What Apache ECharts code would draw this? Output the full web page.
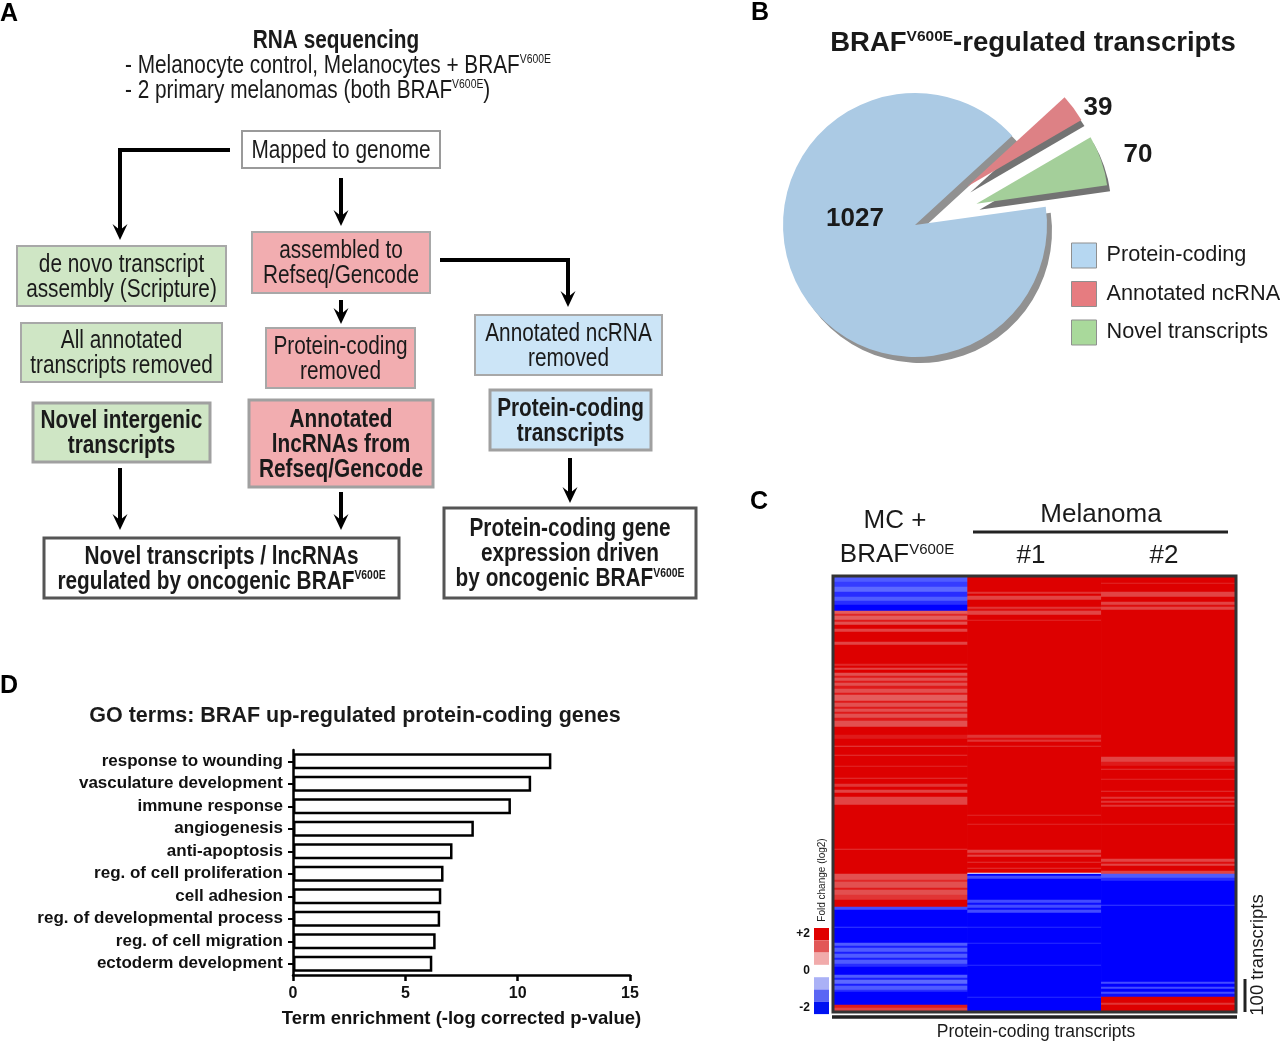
<!DOCTYPE html>
<html>
<head>
<meta charset="utf-8">
<script src="https://cdn.jsdelivr.net/npm/echarts@6/dist/echarts.min.js"></script>
<style>
html,body{margin:0;padding:0;background:#fff;}
#chart{width:1280px;height:1042px;}
</style>
</head>
<body>
<div id="chart"></div>
<script>
// ---------------- DATA ----------------
// Panel B: pie
const pieNames = ['Protein-coding', 'Annotated ncRNA', 'Novel transcripts'];
const pieValues = [1027, 39, 70];

// Panel D: GO terms
const goTerms = ['response to wounding', 'vasculature development', 'immune response', 'angiogenesis',
  'anti-apoptosis', 'reg. of cell proliferation', 'cell adhesion', 'reg. of developmental process',
  'reg. of cell migration', 'ectoderm development'];
const goValues = [11.5, 10.6, 9.7, 8.05, 7.1, 6.7, 6.6, 6.55, 6.35, 6.2];
const goTicks = [0, 5, 10, 15];

// Panel C: heatmap columns and fold-change runs (log2), read top to bottom as [rows, value]
const heatColumns = ['MC + BRAF V600E', 'Melanoma #1', 'Melanoma #2'];
const runsMC = [
  [5,-1.4],[5,-1.6],[5,-1.3],[5,-1.7],[4,-1.4],[4,-1.7],[6,-2],
  [3,1.3],[2,1.7],[4,1.3],[2,1.8],[3,1.4],[4,2],[3,1.5],[10,2],[3,1.5],[19,2],
  [2,1.7],[2,2],[2,1.5],[3,2],[3,1.4],[2,1.8],[3,1.4],[2,1.8],[3,1.4],
  [3,1.8],[4,1.4],[2,1.8],[6,1.3],[2,1.8],[4,1.4],[2,1.8],[3,1.4],[2,1.8],[4,1.4],[3,1.8],[6,1.4],
  [8,2],[4,1.8],[7,2],[1,1.5],[8,2],[1,1.6],[10,2],[1,1.7],[11,2],[1,1.6],[5,2],[3,1.6],[3,2],[3,1.5],[4,2],[8,1.5],
  [44,2],[1,1.6],[24,2],
  [6,1.4],[2,1.7],[6,1.4],[2,1.8],[5,1.4],[5,1.6],[7,2],
  [3,-1.5],[17,-2],[1,-1.6],[15,-2],
  [3,-1.4],[2,-1.8],[4,-1.4],[2,-1.8],[4,-1.4],[2,-1.8],[4,-1.4],[3,-1.7],
  [8,-2],[3,-1.4],[2,-1.8],[4,-1.3],[2,-1.8],[4,-1.4],[2,-1.7],[13,-2],
  [3,1.8],[3,1.5]
];
const runsM1 = [
  [15,2],[2,1.6],[2,2],[4,1.5],[7,2],[2,1.6],[2,1.9],[4,1.5],[5,2],[1,1.7],
  [114,2],[3,1.6],[2,1.9],[2,1.6],[4,2],[1,1.6],[68,2],[1,1.7],[8,2],[1,1.7],[25,2],
  [3,1.5],[2,1.9],[2,1.5],[5,2],[1,1.6],[5,2],[1,1.6],[4,2],[1,0],
  [2,-2],[3,-1.5],[21,-2],[3,-1.5],[2,-1.9],[3,-1.5],[2,-1.9],[3,-1.5],
  [14,-2],[1,-1.7],[15,-2],[1,-1.7],[21,-2],[1,-1.7],[31,-2],[1,-1.7],[13,-2]
];
const runsM2 = [
  [6,2],[1,1.7],[8,2],[5,1.5],[5,2],[3,1.5],[2,1.9],[3,1.5],
  [147,2],[5,1.5],[4,1.8],[3,2],[1,1.6],[9,2],[1,1.7],[11,2],[1,1.6],[5,2],
  [2,1.6],[2,2],[2,1.6],[2,2],[2,1.6],[17,2],[1,1.7],[34,2],
  [3,1.5],[2,1.9],[2,1.5],[5,2],[3,1.5],
  [4,-1.4],[3,-1.7],[24,-2],[1,-1.6],[76,-2],
  [2,-1.5],[3,-2],[2,-1.5],[3,-2],[2,-1.5],[3,-1.9],
  [6,2],[2,1.6],[6,2]
];
const foldTicks = ['+2', '0', '-2'];

// ---------------- BUILD ----------------
function expandRuns(runs) {
  const out = [];
  runs.forEach(function (r) { for (let i = 0; i < r[0]; i++) out.push(r[1]); });
  return out;
}
const colVals = [expandRuns(runsMC), expandRuns(runsM1), expandRuns(runsM2)];
const nRows = colVals[0].length;
const rowCats = [];
for (let i = 0; i < nRows; i++) rowCats.push(String(i));
const heatData = [];
colVals.forEach(function (vals, c) { vals.forEach(function (v, r) { heatData.push([c, r, v]); }); });

const FF = '"Liberation Sans", Arial, Helvetica, sans-serif';
const TXT = '#1a1a1a';
const SUP = { fontSize: 13, fontFamily: FF, verticalAlign: 'top', fill: TXT };
const SUPB = { fontSize: 13, fontFamily: FF, fontWeight: 'bold', verticalAlign: 'top', fill: TXT };

const G_FILL = '#cfe6c5', P_FILL = '#f2adb0', B_FILL = '#cce5f7';
const boxes = [
  [242,131,198,37,'#ffffff','#9a9a9a',2,'Mapped to genome',false],
  [17,246,209,60,G_FILL,'#a8a8a8',2,'de novo transcript\nassembly (Scripture)',false],
  [252,232,178,61,P_FILL,'#a8a8a8',2,'assembled to\nRefseq/Gencode',false],
  [21,323,201,59,G_FILL,'#a8a8a8',2,'All annotated\ntranscripts removed',false],
  [266,328,149,60,P_FILL,'#a8a8a8',2,'Protein-coding\nremoved',false],
  [475,315,187,60,B_FILL,'#a8a8a8',2,'Annotated ncRNA\nremoved',false],
  [33,403,177,59,G_FILL,'#a0a0a0',3,'Novel intergenic\ntranscripts',true],
  [249,400,184,87,P_FILL,'#a0a0a0',3,'Annotated\nlncRNAs from\nRefseq/Gencode',true],
  [490,390,161,60,B_FILL,'#a0a0a0',3,'Protein-coding\ntranscripts',true],
  [44,538,355,60,'#ffffff','#555555',3,'Novel transcripts / lncRNAs\nregulated by oncogenic BRAF{sup|V600E}',true],
  [444,508,252,90,'#ffffff','#555555',3,'Protein-coding gene\nexpression driven\nby oncogenic BRAF{sup|V600E}',true]
];

const gEls = [];
function txt(x, y, text, opt) {
  opt = opt || {};
  gEls.push({
    type: 'text', x: x, y: y, z: 50, scaleX: opt.scaleX || 1, rotation: opt.rotation || 0,
    style: {
      text: text, fontSize: opt.size || 20, fontFamily: FF, fontWeight: opt.bold ? 'bold' : 'normal',
      fill: opt.color || TXT, align: opt.align || 'center', verticalAlign: 'middle',
      textAlign: opt.align || 'center', textVerticalAlign: 'middle',
      lineHeight: opt.lh || undefined,
      rich: opt.rich || (opt.bold ? { sup: SUPB } : { sup: SUP })
    }
  });
}
boxes.forEach(function (b) {
  gEls.push({ type: 'rect', z: 40, shape: { x: b[0], y: b[1], width: b[2], height: b[3] },
    style: { fill: b[4], stroke: b[5], lineWidth: b[6] } });
  txt(b[0] + b[2] / 2, b[1] + b[3] / 2 + 1, b[7], { size: 26, bold: b[8], scaleX: 0.8, lh: 25 });
});
// header of panel A
txt(336, 41, 'RNA sequencing', { size: 26, bold: true, scaleX: 0.8 });
txt(125, 66, '- Melanocyte control, Melanocytes + BRAF{sup|V600E}', { size: 26, scaleX: 0.8, align: 'left' });
txt(125, 91, '- 2 primary melanomas (both BRAF{sup|V600E})', { size: 26, scaleX: 0.8, align: 'left' });

// arrows
const arrows = [
  [[230,150],[120,150],[120,240]],
  [[341,178],[341,226]],
  [[440,260],[568,260],[568,307]],
  [[341,300],[341,324]],
  [[120,468],[120,530]],
  [[341,492],[341,530]],
  [[570,458],[570,503]]
];
arrows.forEach(function (pts) {
  const tip = pts[pts.length - 1];
  const line = pts.slice(0, pts.length - 1).concat([[tip[0], tip[1] - 9]]);
  gEls.push({ type: 'polyline', z: 45, shape: { points: line }, style: { stroke: '#000', lineWidth: 4, fill: null } });
  gEls.push({ type: 'polygon', z: 46, shape: { points: [[tip[0] - 7.5, tip[1] - 16], [tip[0], tip[1] - 10], [tip[0] + 7.5, tip[1] - 16], [tip[0], tip[1]]] },
    style: { fill: '#000' } });
});

// panel letters
txt(0, 14, 'A', { size: 25, bold: true, align: 'left', color: '#000' });
txt(751, 13, 'B', { size: 25, bold: true, align: 'left', color: '#000' });
txt(750, 502, 'C', { size: 25, bold: true, align: 'left', color: '#000' });
txt(0, 686, 'D', { size: 25, bold: true, align: 'left', color: '#000' });

// panel B title + pie value labels
txt(1033, 43, 'BRAF{supb|V600E}-regulated transcripts', { size: 27.5, bold: true,
  rich: { supb: { fontSize: 15.5, fontFamily: FF, fontWeight: 'bold', verticalAlign: 'top', fill: TXT } } });
txt(855, 219, String(pieValues[0]), { size: 26, bold: true });
txt(1098, 108, String(pieValues[1]), { size: 26, bold: true });
txt(1138, 155, String(pieValues[2]), { size: 26, bold: true });

// panel C annotations
txt(895, 521, 'MC +', { size: 26 });
txt(897, 555, 'BRAF{sup|V600E}', { size: 26, rich: { sup: { fontSize: 15, fontFamily: FF, verticalAlign: 'top', fill: TXT } } });
txt(1101, 515, 'Melanoma', { size: 26 });
gEls.push({ type: 'line', z: 45, shape: { x1: 973, y1: 532, x2: 1228, y2: 532 }, style: { stroke: '#222', lineWidth: 3 } });
txt(1031, 556, '#1', { size: 26 });
txt(1164, 556, '#2', { size: 26 });
gEls.push({ type: 'rect', z: 60, shape: { x: 833, y: 576, width: 403, height: 436 }, style: { fill: null, stroke: '#333', lineWidth: 3 } });
gEls.push({ type: 'line', z: 45, shape: { x1: 832, y1: 1017, x2: 1237, y2: 1017 }, style: { stroke: '#222', lineWidth: 3.5 } });
txt(1036, 1032, 'Protein-coding transcripts', { size: 17.5 });
gEls.push({ type: 'line', z: 45, shape: { x1: 1245, y1: 979, x2: 1245, y2: 1012 }, style: { stroke: '#222', lineWidth: 3 } });
txt(1258, 955, '100 transcripts', { size: 18.5, rotation: Math.PI / 2 });
txt(822, 880, 'Fold change (log2)', { size: 10, rotation: Math.PI / 2, color: '#222' });

// panel D title
txt(355, 716, 'GO terms: BRAF up-regulated protein-coding genes', { size: 21.5, bold: true });

// ---------------- CHART ----------------
const chart = echarts.init(document.getElementById('chart'), null, { renderer: 'canvas' });
const blue = '#abcae4', red = '#dd8185', green = '#a4cf9a';
chart.setOption({
  animation: false,
  backgroundColor: '#ffffff',
  graphic: { elements: gEls },
  legend: {
    data: [
      { name: pieNames[0], itemStyle: { color: '#b6d7f1' } },
      { name: pieNames[1], itemStyle: { color: '#e67c80' } },
      { name: pieNames[2], itemStyle: { color: '#a9d99b' } }
    ],
    orient: 'vertical', left: 1071, top: 242.5, padding: 0,
    itemWidth: 25, itemHeight: 25, itemGap: 12.5,
    selectedMode: false, icon: 'rect',
    itemStyle: { borderColor: '#8f8f8f', borderWidth: 1, shadowBlur: 0, shadowOffsetX: 0, shadowOffsetY: 0, shadowColor: 'rgba(0,0,0,0)' },
    textStyle: { fontSize: 21.7, fontFamily: FF, color: '#1a1a1a', padding: [0, 0, 0, 5] }
  },
  grid: [
    { left: 293, top: 750, width: 337, height: 225 },
    { left: 834, top: 577, width: 401, height: 434 }
  ],
  xAxis: [
    { type: 'value', gridIndex: 0, min: goTicks[0], max: goTicks[goTicks.length - 1], interval: 5,
      axisLine: { show: true, lineStyle: { color: '#000', width: 2.5 } },
      axisTick: { show: true, length: 6, lineStyle: { color: '#000', width: 2.5 } },
      axisLabel: { fontSize: 16, fontWeight: 'bold', fontFamily: FF, color: '#111', margin: 11 },
      splitLine: { show: false },
      name: 'Term enrichment (-log corrected p-value)', nameLocation: 'middle', nameGap: 34,
      nameTextStyle: { fontSize: 18.5, fontWeight: 'bold', fontFamily: FF, color: '#111' } },
    { type: 'category', gridIndex: 1, data: heatColumns, show: false }
  ],
  yAxis: [
    { type: 'category', gridIndex: 0, data: goTerms, inverse: true,
      axisLine: { show: true, lineStyle: { color: '#000', width: 2.5 } },
      axisTick: { show: true, alignWithLabel: true, length: 5, lineStyle: { color: '#000', width: 2 } },
      axisLabel: { fontSize: 17, fontWeight: 'bold', fontFamily: FF, color: '#111', margin: 10 } },
    { type: 'category', gridIndex: 1, data: rowCats, inverse: true, show: false }
  ],
  visualMap: [
    { type: 'continuous', show: false, seriesIndex: 1, min: -2, max: 2,
      inRange: { color: ['#0000ff', '#5a66ff', '#b0b6f8', '#ffffff', '#f2b0b0', '#e35a5a', '#dd0000'] } },
    { type: 'piecewise', seriesIndex: 3, right: 451, top: 928, orient: 'vertical', align: 'right',
      itemWidth: 15, itemHeight: 12.3, itemGap: 0, itemSymbol: 'rect', textGap: 4, padding: 0,
      textStyle: { fontSize: 12, fontWeight: 'bold', fontFamily: FF, color: '#111' },
      pieces: [
        { min: 1.67, label: foldTicks[0], color: '#e00000' },
        { min: 1, max: 1.67, label: ' ', color: '#e25757' },
        { min: 0.33, max: 1, label: ' ', color: '#f1abab' },
        { min: -0.33, max: 0.33, label: foldTicks[1], color: '#ffffff' },
        { min: -1, max: -0.33, label: ' ', color: '#aab1f6' },
        { min: -1.67, max: -1, label: ' ', color: '#5a66f4' },
        { max: -1.67, label: foldTicks[2], color: '#0012f2' }
      ] }
  ],
  series: [
    { type: 'bar', xAxisIndex: 0, yAxisIndex: 0, data: goValues, barWidth: 16,
      itemStyle: { color: '#ffffff', borderColor: '#000', borderWidth: 2.5 }, emphasis: { disabled: true } },
    { type: 'heatmap', xAxisIndex: 1, yAxisIndex: 1, data: heatData, progressive: 0,
      itemStyle: { borderWidth: 0 }, emphasis: { disabled: true } },
    { type: 'pie', center: [915, 225], radius: 132, startAngle: 8, clockwise: true,
      selectedMode: 'multiple', selectedOffset: 65, avoidLabelOverlap: false,
      label: { show: false }, labelLine: { show: false }, emphasis: { disabled: true, scale: false },
      data: [
        { name: pieNames[0], value: pieValues[0],
          itemStyle: { color: blue, borderWidth: 0, shadowColor: 'rgba(145,145,145,1)', shadowBlur: 0, shadowOffsetX: 5, shadowOffsetY: 6 } },
        { name: pieNames[1], value: pieValues[1], selected: true,
          itemStyle: { color: red, borderWidth: 0, shadowColor: 'rgba(115,115,115,1)', shadowBlur: 0, shadowOffsetX: 3, shadowOffsetY: 6 } },
        { name: pieNames[2], value: pieValues[2], selected: true,
          itemStyle: { color: green, borderWidth: 0, shadowColor: 'rgba(115,115,115,1)', shadowBlur: 0, shadowOffsetX: 3, shadowOffsetY: 6 } }
      ] },
    { type: 'scatter', xAxisIndex: 1, yAxisIndex: 1, data: [], silent: true }
  ]
});
</script>
</body>
</html>
